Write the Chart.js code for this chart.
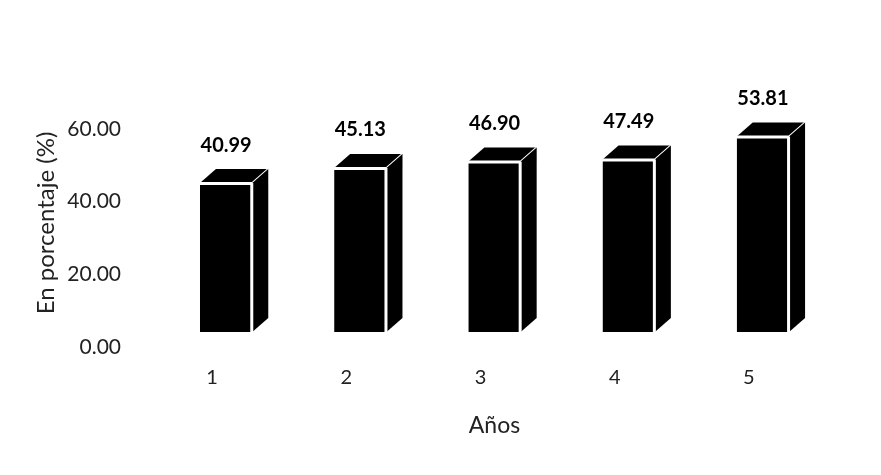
<!DOCTYPE html>
<html>
<head>
<meta charset="utf-8">
<script src="https://cdn.jsdelivr.net/npm/chart.js@4.4.1/dist/chart.umd.min.js"></script>
<style>
  html, body { margin: 0; padding: 0; background: #fff; }
  #wrap { width: 881px; height: 475px; }
</style>
</head>
<body>
<div id="wrap"><canvas id="aniosChart" width="881" height="475"></canvas></div>
<script>
const years = ['1', '2', '3', '4', '5'];
const percentages = [40.99, 45.13, 46.90, 47.49, 53.81];
const yTicks = [0, 20, 40, 60];

const FONT = 'Lato, "Open Sans", sans-serif';

// profundidad de la caja 3D (desplazamiento de la cara trasera)
const DEPTH_X = 16;
const DEPTH_Y = -14;

const box3d = {
    id: 'box3d',
    afterDatasetsDraw(chart) {
        const ctx = chart.ctx;
        const meta = chart.getDatasetMeta(0);
        ctx.save();
        ctx.strokeStyle = '#fff';
        ctx.lineWidth = 2;
        ctx.lineJoin = 'round';
        meta.data.forEach((bar, i) => {
            const p = bar.getProps(['x', 'y', 'base', 'width'], true);
            const left = p.x - p.width / 2;
            const right = p.x + p.width / 2;

            ctx.fillStyle = '#000';

            // cara superior
            ctx.beginPath();
            ctx.moveTo(left, p.y);
            ctx.lineTo(left + DEPTH_X, p.y + DEPTH_Y);
            ctx.lineTo(right + DEPTH_X, p.y + DEPTH_Y);
            ctx.lineTo(right, p.y);
            ctx.closePath();
            ctx.fill();
            ctx.beginPath();
            ctx.moveTo(left, p.y);
            ctx.lineTo(right, p.y);
            ctx.lineTo(right + DEPTH_X, p.y + DEPTH_Y);
            ctx.stroke();

            // cara lateral
            ctx.beginPath();
            ctx.moveTo(right, p.y);
            ctx.lineTo(right + DEPTH_X, p.y + DEPTH_Y);
            ctx.lineTo(right + DEPTH_X, p.base + DEPTH_Y);
            ctx.lineTo(right, p.base);
            ctx.closePath();
            ctx.fill();
            ctx.beginPath();
            ctx.moveTo(right, p.y);
            ctx.lineTo(right, p.base);
            ctx.stroke();

            // etiqueta de valor
            ctx.font = 'bold 20px ' + FONT;
            ctx.textAlign = 'center';
            ctx.textBaseline = 'middle';
            ctx.fillText(percentages[i].toFixed(2), p.x, p.y - 38);
        });
        ctx.restore();
    }
};

const ctx = document.getElementById('aniosChart').getContext('2d');
new Chart(ctx, {
    type: 'bar',
    data: {
        labels: years,
        datasets: [{
            data: percentages,
            backgroundColor: '#000',
            borderColor: '#fff',
            borderWidth: { top: 2, right: 2, left: 0, bottom: 0 },
            borderSkipped: false,
            categoryPercentage: 1,
            barPercentage: 0.39
        }]
    },
    options: {
        responsive: false,
        animation: false,
        layout: { padding: { top: 114, right: 51, bottom: 36, left: 32 } },
        plugins: {
            legend: { display: false },
            tooltip: { enabled: false }
        },
        scales: {
            x: {
                afterFit: axis => { axis.height = 107; },
                grid: { display: false, drawTicks: false },
                border: { display: false },
                ticks: {
                    color: '#222',
                    font: { family: FONT, size: 20 },
                    padding: 34,
                    labelOffset: -14
                },
                title: {
                    display: true,
                    text: 'Años',
                    color: '#222',
                    font: { family: FONT, size: 23 },
                    padding: { top: 20, bottom: 0 }
                }
            },
            y: {
                min: 0,
                max: 60,
                afterBuildTicks: axis => {
                    axis.ticks = yTicks.map(v => ({ value: v }));
                },
                afterFit: axis => { axis.width = 127; },
                grid: { display: false, drawTicks: false },
                border: { display: false },
                ticks: {
                    color: '#222',
                    font: { family: FONT, size: 21 },
                    padding: 38,
                    labelOffset: 15,
                    callback: v => Number(v).toFixed(2)
                },
                title: {
                    display: true,
                    text: 'En porcentaje (%)',
                    color: '#222',
                    font: { family: FONT, size: 24 },
                    padding: { top: 0, bottom: 10 }
                }
            }
        }
    },
    plugins: [box3d]
});
</script>
</body>
</html>
